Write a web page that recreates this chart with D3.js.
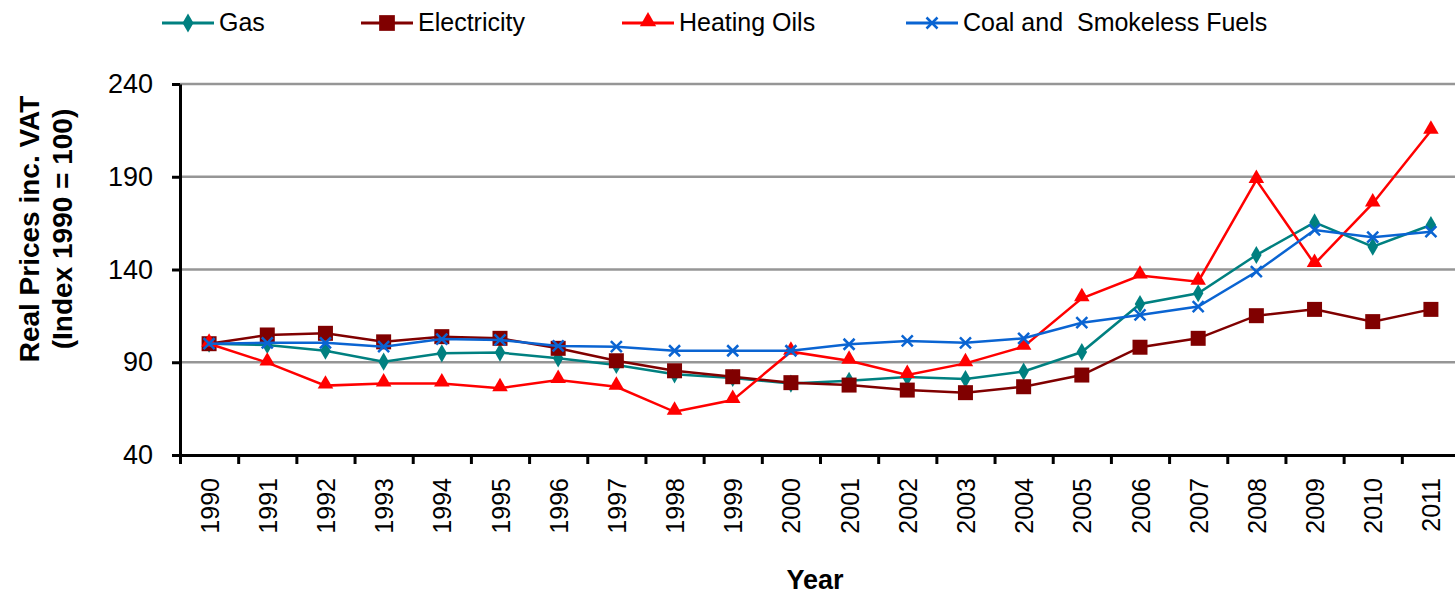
<!DOCTYPE html>
<html>
<head>
<meta charset="utf-8">
<script src="https://cdn.jsdelivr.net/npm/d3@7"></script>
<style>
  body { margin: 0; background: #fff; }
  text { font-family: Arial, "Liberation Sans", sans-serif; }
</style>
</head>
<body>
<div class="chart"></div>
<script>
// Data
var years = ["1990", "1991", "1992", "1993", "1994", "1995", "1996", "1997", "1998", "1999", "2000",
  "2001", "2002", "2003", "2004", "2005", "2006", "2007", "2008", "2009", "2010", "2011"];
var gas = [100, 99.3, 96.2, 90.3, 94.8, 95.2, 92.1, 88.5, 83.5, 81.5, 78.5, 80, 82, 81, 85, 95.5,
  121.4, 127.2, 147.8, 165.4, 152.3, 164];
var electricity = [100, 104.7, 105.6, 101, 103.8, 102.9, 97.5, 90.8, 85.4, 82.2, 79, 77.7, 75, 73.6,
  76.8, 83.1, 98.1, 102.9, 115.1, 118.5, 111.9, 118.5];
var heatingOils = [100, 89.8, 77.4, 78.6, 78.6, 76, 80.4, 76.8, 63.3, 69.6, 95.7, 90.8, 83.1, 89.4,
  98.4, 124.5, 136.7, 133.4, 188.2, 143, 175.6, 214.8];
var coal = [100, 100.5, 100.5, 98.4, 102.5, 102, 98.8, 98.4, 96.2, 96.2, 96.2, 99.7, 101.5, 100.5,
  102.9, 111.3, 115.5, 120, 138.8, 161.3, 157.4, 160.4];
var seriesNames = ["Gas", "Electricity", "Heating Oils", "Coal and  Smokeless Fuels"];
var yTicks = [40, 90, 140, 190, 240];

var svgWidth = 1455;
var svgHeight = 595;

var margin = { top: 84, right: -5, bottom: 140, left: 180 };
var width = svgWidth - margin.left - margin.right;
var height = svgHeight - margin.top - margin.bottom;

var svg = d3.select(".chart")
  .append("svg")
  .attr("width", svgWidth)
  .attr("height", svgHeight)
  .style("display", "block");

var chartGroup = svg.append("g")
  .attr("transform", `translate(${margin.left}, ${margin.top})`);

// scales
var xScale = d3.scaleBand()
  .domain(years)
  .range([0, width]);

var xEdge = d3.scaleLinear()
  .domain([0, years.length])
  .range([0, width]);

var yScale = d3.scaleLinear()
  .domain([40, 240])
  .range([height, 0]);

var series = [
  { name: seriesNames[0], values: gas, color: "#008080", marker: "diamond" },
  { name: seriesNames[1], values: electricity, color: "#800000", marker: "square" },
  { name: seriesNames[2], values: heatingOils, color: "#ff0000", marker: "triangle" },
  { name: seriesNames[3], values: coal, color: "#0a64d2", marker: "x" }
];

// gridlines
chartGroup.append("g")
  .selectAll("line")
  .data(yTicks.slice(1))
  .enter()
  .append("line")
  .attr("x1", 0)
  .attr("x2", width)
  .attr("y1", d => yScale(d))
  .attr("y2", d => yScale(d))
  .attr("stroke", "#969696")
  .attr("stroke-width", 2.5);

// y axis
var leftAxis = d3.axisLeft(yScale)
  .tickValues(yTicks)
  .tickSize(8)
  .tickPadding(19)
  .tickSizeOuter(0);

var yAxisG = chartGroup.append("g").call(leftAxis);
yAxisG.select(".domain").attr("stroke", "#000").attr("stroke-width", 3);
yAxisG.selectAll(".tick line").attr("stroke", "#000").attr("stroke-width", 3);
yAxisG.selectAll(".tick text")
  .attr("font-size", 27)
  .attr("fill", "#000");

// x axis: ticks at band edges, labels at band centers
var edgeAxis = d3.axisBottom(xEdge)
  .tickValues(d3.range(years.length + 1))
  .tickFormat("")
  .tickSize(9)
  .tickSizeOuter(0);

var xAxisG = chartGroup.append("g")
  .attr("transform", `translate(0, ${height})`)
  .call(edgeAxis);
xAxisG.select(".domain").attr("stroke", "#000").attr("stroke-width", 3);
xAxisG.selectAll(".tick line").attr("stroke", "#000").attr("stroke-width", 3);

var labelAxis = d3.axisBottom(xScale).tickSize(0).tickPadding(0);
var xLabelG = chartGroup.append("g")
  .attr("transform", `translate(0, ${height})`)
  .call(labelAxis);
xLabelG.select(".domain").remove();
xLabelG.selectAll(".tick text")
  .attr("font-size", 25)
  .attr("fill", "#000")
  .attr("transform", "rotate(-90)")
  .attr("text-anchor", "end")
  .attr("x", -23)
  .attr("y", 0)
  .attr("dy", "0.38em");

// markers
function drawMarker(g, type, color, scale) {
  scale = scale || 1;
  if (type === "diamond") {
    g.append("path")
      .attr("d", d3.symbol().type(d3.symbolDiamond).size(95 * scale)())
      .attr("fill", color);
  } else if (type === "square") {
    g.append("path")
      .attr("d", d3.symbol().type(d3.symbolSquare).size(225 * scale)())
      .attr("fill", color);
  } else if (type === "triangle") {
    g.append("path")
      .attr("d", d3.symbol().type(d3.symbolTriangle).size(105 * scale)())
      .attr("transform", "translate(0,-1.5)")
      .attr("fill", color);
  } else {
    var s = 5.5;
    g.append("path")
      .attr("d", `M${-s},${-s}L${s},${s}M${-s},${s}L${s},${-s}`)
      .attr("stroke", color)
      .attr("stroke-width", 2.5)
      .attr("fill", "none");
  }
}

var line = d3.line()
  .x((d, i) => xScale(years[i]) + xScale.bandwidth() / 2)
  .y(d => yScale(d));

series.forEach(function(s) {
  chartGroup.append("path")
    .datum(s.values)
    .attr("d", line)
    .attr("fill", "none")
    .attr("stroke", s.color)
    .attr("stroke-width", 2.5);

  s.values.forEach(function(v, i) {
    var g = chartGroup.append("g")
      .attr("transform", `translate(${xScale(years[i]) + xScale.bandwidth() / 2}, ${yScale(v)})`);
    drawMarker(g, s.marker, s.color);
  });
});

// legend
var legendX = [162, 361, 622, 906];
var legend = svg.append("g");
series.forEach(function(s, i) {
  var lg = legend.append("g").attr("transform", `translate(${legendX[i]}, 23)`);
  lg.append("line")
    .attr("x1", 0)
    .attr("x2", 52)
    .attr("stroke", s.color)
    .attr("stroke-width", 3);
  var mg = lg.append("g").attr("transform", "translate(26,0)");
  drawMarker(mg, s.marker, s.color, 1.1);
  lg.append("text")
    .attr("x", 57)
    .attr("y", 8)
    .attr("font-size", 25)
    .attr("fill", "#000")
    .style("white-space", "pre")
    .text(s.name);
});

// axis titles
svg.append("text")
  .attr("transform", "translate(39, 229) rotate(-90)")
  .attr("text-anchor", "middle")
  .attr("font-size", 28)
  .attr("font-weight", "bold")
  .text("Real Prices inc. VAT");

svg.append("text")
  .attr("transform", "translate(72, 229) rotate(-90)")
  .attr("text-anchor", "middle")
  .attr("font-size", 28)
  .attr("font-weight", "bold")
  .text("(Index 1990 = 100)");

svg.append("text")
  .attr("x", 815)
  .attr("y", 589)
  .attr("text-anchor", "middle")
  .attr("font-size", 27)
  .attr("font-weight", "bold")
  .text("Year");
</script>
</body>
</html>
